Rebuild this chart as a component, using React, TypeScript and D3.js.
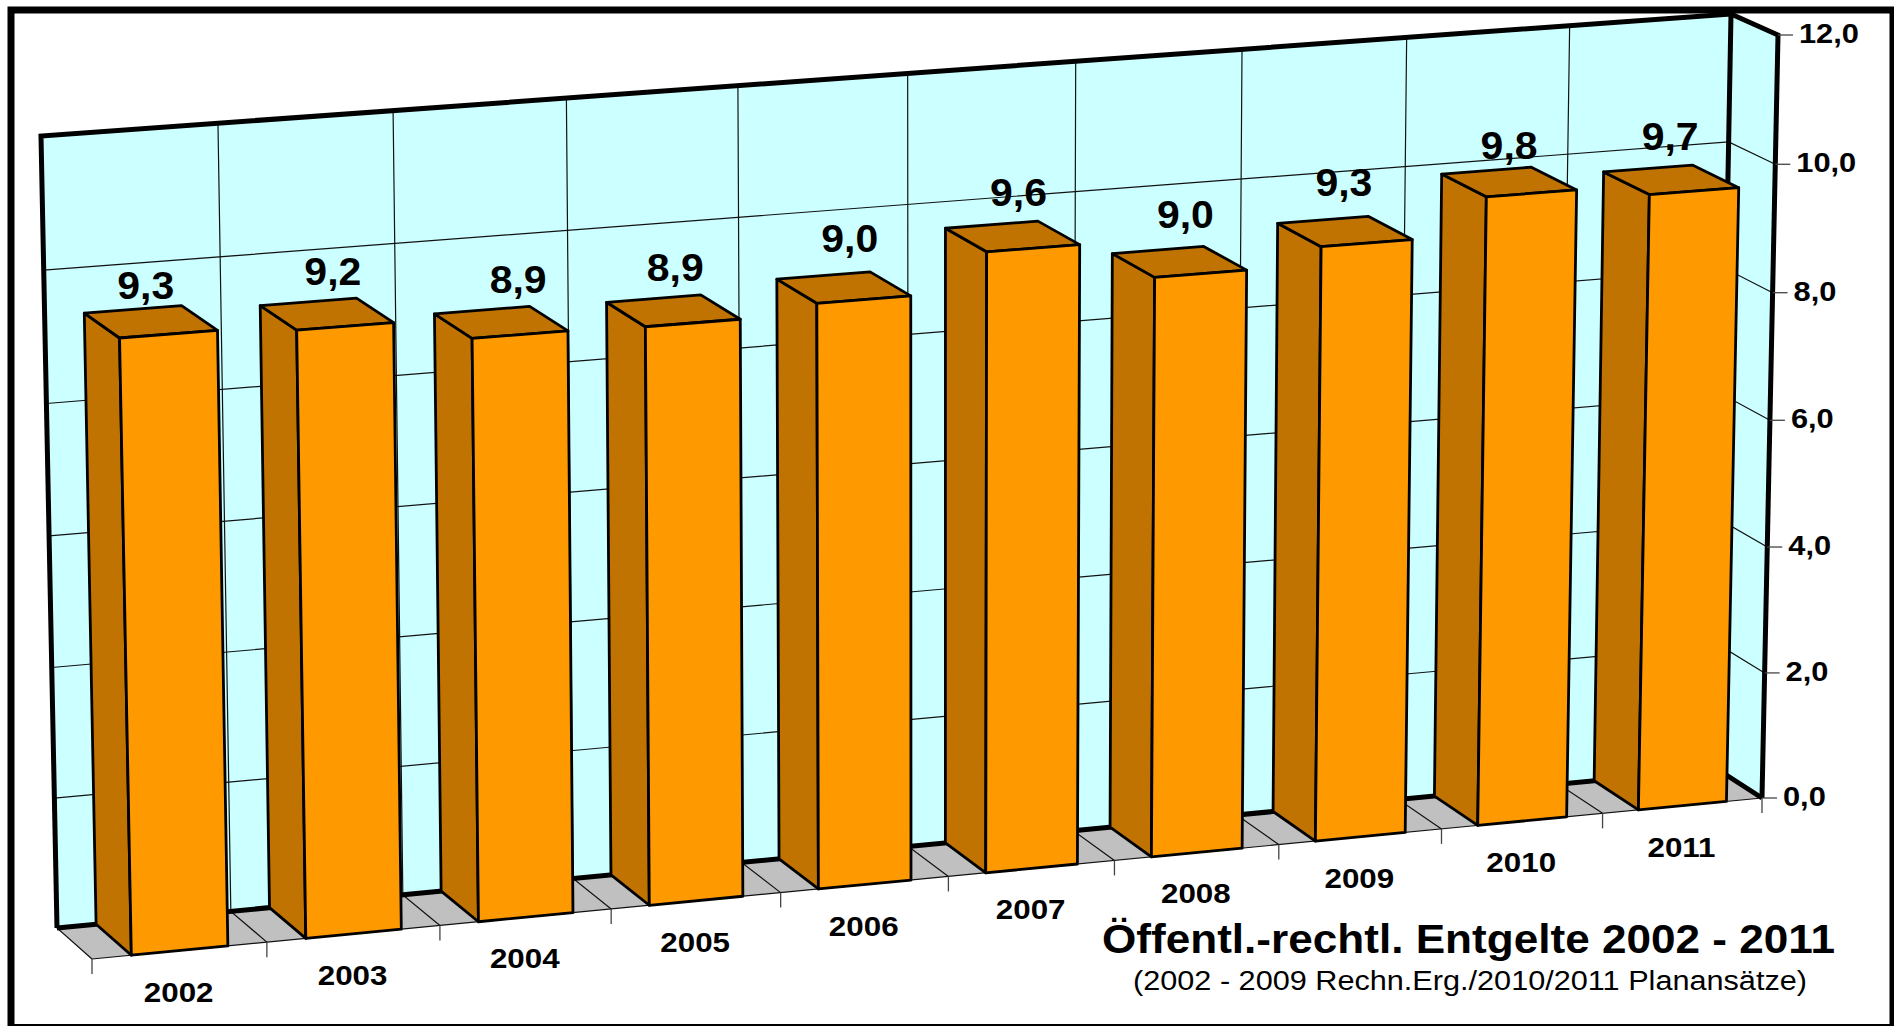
import React from 'react';
import * as d3 from 'd3';

const years = ['2002', '2003', '2004', '2005', '2006', '2007', '2008', '2009', '2010', '2011'];
const values = [9.31, 9.22, 8.89, 8.86, 9.01, 9.59, 9.0, 9.27, 9.84, 9.68];
const yTicks = [0, 2, 4, 6, 8, 10, 12];
const title = 'Öffentl.-rechtl. Entgelte 2002 - 2011';
const subtitle = '(2002 - 2009 Rechn.Erg./2010/2011 Planansätze)';

const width = 1894;
const height = 1026;
const font = '"Liberation Sans", Arial, sans-serif';

// corners of the 3d box on screen: [left/right][bottom/top][back/front]
const box = {
  lbb: [57, 928], ltb: [41, 136], rbb: [1717, 769], rtb: [1731, 14],
  lbf: [92, 959], ltf: [76, 159], rbf: [1762, 798], rtf: [1778, 35],
};

// hand placed labels in the original, not quite centred on their bars
const labelNudgeX = [-5, 6, 17, 2, 6, 6, 6, -1, 0, -1];
const labelNudgeY = [0, -6, -6, -7, -13, -7, -11, -12, 0, -7];

const lerp = (a: number[], b: number[], t: number) => [a[0] + (b[0] - a[0]) * t, a[1] + (b[1] - a[1]) * t];

// perspective foreshortening: slots narrow going right, units shrink going up
const perspX = 0.95;
const perspY = 1.02;
const foreshorten = (t: number, k: number) => t / (t + k * (1 - t));

const xScale = d3.scaleLinear().domain([0, years.length]).range([0, 1]);
const yScale = d3.scaleLinear().domain([0, 12]).range([0, 1]);
const band = d3.scaleBand().domain(years).range([0, years.length]).paddingInner(0.448).paddingOuter(0.224);

function project(slot: number, value: number, z: number) {
  const u = foreshorten(xScale(slot), perspX);
  const v = foreshorten(yScale(value), perspY);
  const back = lerp(lerp(box.lbb, box.ltb, v), lerp(box.rbb, box.rtb, v), u);
  const front = lerp(lerp(box.lbf, box.ltf, v), lerp(box.rbf, box.rtf, v), u);
  return lerp(back, front, z);
}

const line = d3.line();
const open = (pts: number[][]) => line(pts as [number, number][])!;
const closed = (pts: number[][]) => open(pts) + 'Z';

const frontColor = '#FF9900';
const sideColor = '#C07300';
const wallColor = '#CCFFFF';
const floorColor = '#C0C0C0';

const slots = d3.range(years.length + 1);
const n = years.length;

export default function App() {
  return (
    <svg width={width} height={height} style={{ position: 'absolute', left: 0, top: 0, background: '#fff' }}>
      {/* walls and floor */}
      <path d={closed([project(0, 12, 0), project(n, 12, 0), project(n, 0, 0), project(0, 0, 0)])} fill={wallColor} />
      <path d={closed([project(n, 12, 0), project(n, 12, 1), project(n, 0, 1), project(n, 0, 0)])} fill={wallColor} />
      <path d={closed([project(0, 0, 0), project(n, 0, 0), project(n, 0, 1), project(0, 0, 1)])} fill={floorColor} />

      {/* grid */}
      <g stroke="#111" strokeWidth={1.2} fill="none">
        {yTicks.map(t => (
          <path key={t} d={open([project(0, t, 0), project(n, t, 0), project(n, t, 1)])} />
        ))}
        {slots.map(s => (
          <path key={s} d={open([project(s, 12, 0), project(s, 0, 0), project(s, 0, 1)])} />
        ))}
        <path d={open([project(0, 0, 1), project(n, 0, 1)])} />
      </g>

      {/* heavy outline of the box */}
      <g stroke="#000" strokeWidth={5} fill="none" strokeLinejoin="miter">
        <path d={open([project(0, 0, 0), project(0, 12, 0), project(n, 12, 0), project(n, 12, 1), project(n, 0, 1)])} />
        <path d={open([project(0, 0, 0), project(n, 0, 0), project(n, 0, 1)])} />
        <path d={open([project(n, 12, 0), project(n, 0, 0)])} />
      </g>

      {/* axis ticks */}
      <g stroke="#444" strokeWidth={1.3}>
        {slots.map(s => {
          const [x, y] = project(s, 0, 1);
          return <line key={s} x1={x} y1={y} x2={x} y2={y + 15} />;
        })}
        {yTicks.map(t => {
          const [x, y] = project(n, t, 1);
          return <line key={t} x1={x} y1={y} x2={x + 15} y2={y} />;
        })}
      </g>

      {/* bars */}
      <g stroke="#000" strokeWidth={2.8} strokeLinejoin="round">
        {years.map((year, i) => {
          const x0 = band(year)!;
          const x1 = x0 + band.bandwidth();
          const v = values[i];
          return (
            <g key={year}>
              <path d={closed([project(x0, 0, 0), project(x0, v, 0), project(x0, v, 1), project(x0, 0, 1)])} fill={sideColor} />
              <path d={closed([project(x0, v, 0), project(x1, v, 0), project(x1, v, 1), project(x0, v, 1)])} fill={sideColor} />
              <path d={closed([project(x0, 0, 1), project(x0, v, 1), project(x1, v, 1), project(x1, 0, 1)])} fill={frontColor} />
            </g>
          );
        })}
      </g>

      {/* value labels */}
      <g fontFamily={font} fontWeight="bold" fontSize={39} textAnchor="middle" fill="#000">
        {years.map((year, i) => {
          const xm = band(year)! + band.bandwidth() / 2;
          const [x, y] = project(xm, values[i], 0.5);
          return (
            <text key={year} transform={`translate(${x + labelNudgeX[i]},${y - 23 + labelNudgeY[i]}) scale(1.05,1)`}>
              {values[i].toFixed(1).replace('.', ',')}
            </text>
          );
        })}
      </g>

      {/* category labels */}
      <g fontFamily={font} fontWeight="bold" fontSize={28} textAnchor="middle" fill="#000">
        {years.map(year => {
          const xm = band(year)! + band.bandwidth() / 2;
          const [x, y] = project(xm, 0, 1);
          return (
            <text key={year} transform={`translate(${x - 1},${y + 51}) scale(1.12,1)`}>
              {year}
            </text>
          );
        })}
      </g>

      {/* value axis labels */}
      <g fontFamily={font} fontWeight="bold" fontSize={28} fill="#000">
        {yTicks.map(t => {
          const [x, y] = project(n, t, 1);
          return (
            <text key={t} transform={`translate(${x + 21},${y + 8}) scale(1.1,1)`}>
              {d3.format('.1f')(t).replace('.', ',')}
            </text>
          );
        })}
      </g>

      <text x={1102} y={953} fontFamily={font} fontWeight="bold" fontSize={40} textLength={733} lengthAdjust="spacingAndGlyphs" fill="#000">
        {title}
      </text>
      <text x={1133} y={990} fontFamily={font} fontSize={27} textLength={674} lengthAdjust="spacingAndGlyphs" fill="#000">
        {subtitle}
      </text>

      {/* outer frame */}
      <rect x={11} y={10} width={1882} height={1017.5} fill="none" stroke="#000" strokeWidth={7} />
    </svg>
  );
}
